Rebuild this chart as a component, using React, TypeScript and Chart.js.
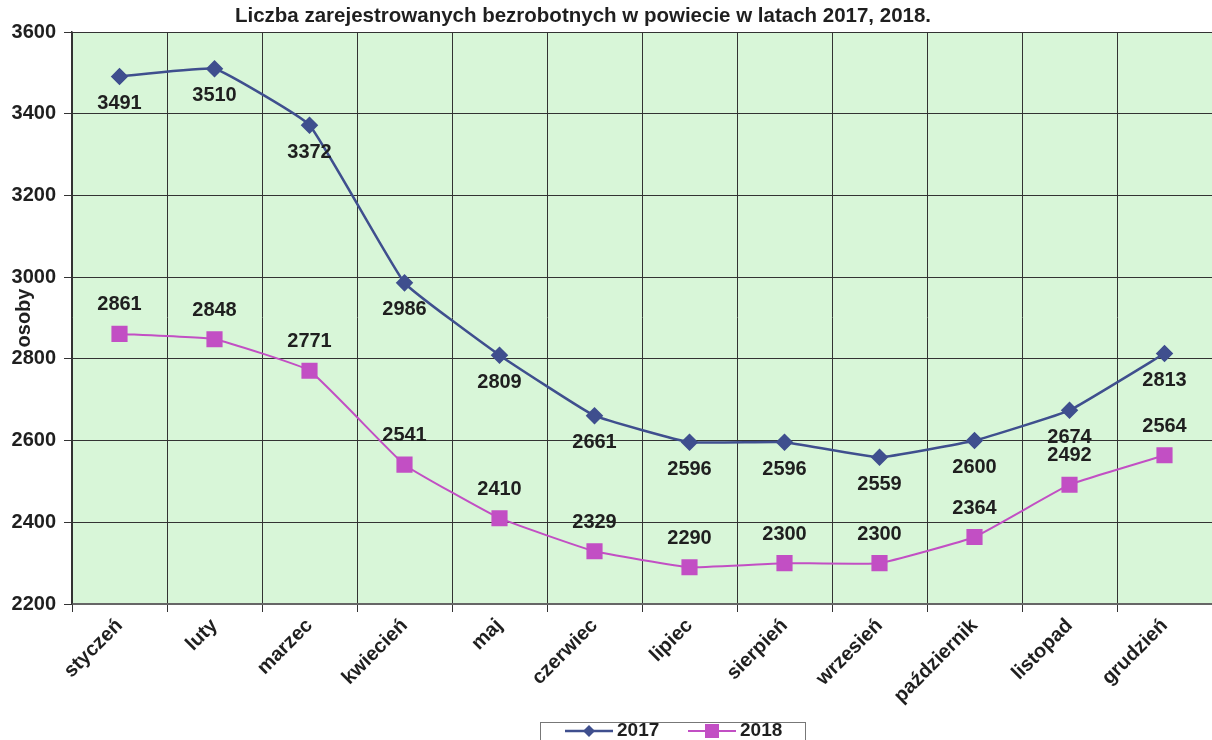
import React, { useEffect, useRef } from "react";
import { Chart, registerables } from "chart.js";

Chart.register(...registerables);

const TITLE = "Liczba zarejestrowanych bezrobotnych w powiecie w latach 2017, 2018.";
const Y_TITLE = "osoby";
const MONTHS = [
  "styczeń",
  "luty",
  "marzec",
  "kwiecień",
  "maj",
  "czerwiec",
  "lipiec",
  "sierpień",
  "wrzesień",
  "październik",
  "listopad",
  "grudzień",
];
const SERIES_2017 = [3491, 3510, 3372, 2986, 2809, 2661, 2596, 2596, 2559, 2600, 2674, 2813];
const SERIES_2018 = [2861, 2848, 2771, 2541, 2410, 2329, 2290, 2300, 2300, 2364, 2492, 2564];
const Y_MIN = 2200;
const Y_MAX = 3600;
const Y_STEP = 200;

const FONT = "'Liberation Sans', Arial, sans-serif";
const COLOR_2017 = "#3f4f8e";
const COLOR_2018 = "#c24fc4";
const TEXT = "#1f1f1f";

const decorPlugin = {
  id: "decor",
  beforeDraw(chart: any) {
    const { ctx, chartArea } = chart;
    ctx.save();
    ctx.fillStyle = "#ffffff";
    ctx.fillRect(0, 0, chart.width, chart.height);
    ctx.fillStyle = "#d8f6d8";
    ctx.fillRect(chartArea.left, chartArea.top, chartArea.right - chartArea.left, chartArea.bottom - chartArea.top);
    ctx.restore();
  },
  afterDatasetsDraw(chart: any) {
    const { ctx } = chart;
    ctx.save();
    ctx.font = `bold 20px ${FONT}`;
    ctx.fillStyle = TEXT;
    ctx.textAlign = "center";
    ctx.textBaseline = "middle";
    chart.data.datasets.forEach((ds: any, i: number) => {
      const meta = chart.getDatasetMeta(i);
      const off = i === 0 ? 27 : -29;
      meta.data.forEach((pt: any, j: number) => {
        ctx.fillText(String(ds.data[j]), pt.x, pt.y + off);
      });
    });
    ctx.restore();
  },
  afterDraw(chart: any) {
    const { ctx } = chart;
    ctx.save();
    // title
    ctx.font = `bold 20.5px ${FONT}`;
    ctx.fillStyle = TEXT;
    ctx.textAlign = "center";
    ctx.textBaseline = "middle";
    ctx.fillText(TITLE, 583, 16);
    // legend
    const bx = 540, by = 722, bw = 265, bh = 30;
    ctx.fillStyle = "#ffffff";
    ctx.fillRect(bx, by, bw, bh);
    ctx.strokeStyle = "#777";
    ctx.lineWidth = 1;
    ctx.strokeRect(bx + 0.5, by + 0.5, bw, bh);
    const cy = 731;
    const items = [
      { x: 565, ds: chart.data.datasets[0] },
      { x: 688, ds: chart.data.datasets[1] },
    ];
    items.forEach((it) => {
      ctx.strokeStyle = it.ds.borderColor;
      ctx.lineWidth = it.ds.borderWidth;
      ctx.beginPath();
      ctx.moveTo(it.x, cy);
      ctx.lineTo(it.x + 48, cy);
      ctx.stroke();
      ctx.fillStyle = it.ds.backgroundColor;
      const mx = it.x + 24;
      if (it.ds.pointStyle === "rectRot") {
        ctx.beginPath();
        ctx.moveTo(mx, cy - 6);
        ctx.lineTo(mx + 6, cy);
        ctx.lineTo(mx, cy + 6);
        ctx.lineTo(mx - 6, cy);
        ctx.closePath();
        ctx.fill();
      } else {
        ctx.fillRect(mx - 7, cy - 7, 14, 14);
      }
      ctx.font = `bold 19px ${FONT}`;
      ctx.fillStyle = TEXT;
      ctx.textAlign = "left";
      ctx.fillText(it.ds.label, it.x + 52, cy);
    });
    ctx.restore();
  },
};

export default function App() {
  const ref = useRef<HTMLCanvasElement | null>(null);
  useEffect(() => {
    if (!ref.current) return;
    const chart = new Chart(ref.current, {
      type: "line",
      data: {
        labels: MONTHS,
        datasets: [
          {
            label: "2017",
            data: SERIES_2017,
            borderColor: COLOR_2017,
            backgroundColor: COLOR_2017,
            borderWidth: 2.5,
            pointStyle: "rectRot",
            pointRadius: 7,
            pointHoverRadius: 7,
            tension: 0.1,
          },
          {
            label: "2018",
            data: SERIES_2018,
            borderColor: COLOR_2018,
            backgroundColor: COLOR_2018,
            borderWidth: 2,
            pointStyle: "rect",
            pointRadius: 10,
            pointHoverRadius: 10,
            tension: 0.1,
          },
        ],
      },
      options: {
        responsive: false,
        animation: false,
        layout: { autoPadding: false, padding: { top: 32, left: 0, right: 0, bottom: 0 } },
        plugins: {
          legend: { display: false },
          title: { display: false },
          tooltip: { enabled: false },
        },
        scales: {
          x: {
            type: "category",
            offset: true,
            grid: { offset: true, color: "#333", lineWidth: 1, tickLength: 8, drawTicks: true },
            border: { color: "#666", width: 2 },
            ticks: {
              color: TEXT,
              font: { family: FONT, size: 20, weight: "bold" },
              maxRotation: 45,
              minRotation: 45,
              padding: 2,
              autoSkip: false,
            },
            afterFit(scale: any) {
              scale.height = 136;
              scale.paddingLeft = 0;
              scale.paddingRight = 0;
            },
          },
          y: {
            min: Y_MIN,
            max: Y_MAX,
            grid: { color: "#333", lineWidth: 1, tickLength: 8 },
            border: { color: "#333", width: 1.5 },
            ticks: {
              stepSize: Y_STEP,
              color: TEXT,
              font: { family: FONT, size: 20, weight: "bold" },
              padding: 8,
              callback: (v: any) => String(v),
            },
            title: {
              display: true,
              text: Y_TITLE,
              color: TEXT,
              font: { family: FONT, size: 20, weight: "bold" },
              padding: { top: 12, bottom: 0 },
            },
            afterFit(scale: any) {
              scale.width = 72;
            },
          },
        },
      },
      plugins: [decorPlugin],
    } as any);
    return () => chart.destroy();
  }, []);
  return (
    <div style={{ position: "absolute", left: 0, top: 0, width: 1212, height: 740, background: "#fff" }}>
      <canvas ref={ref} width={1212} height={740} />
    </div>
  );
}
